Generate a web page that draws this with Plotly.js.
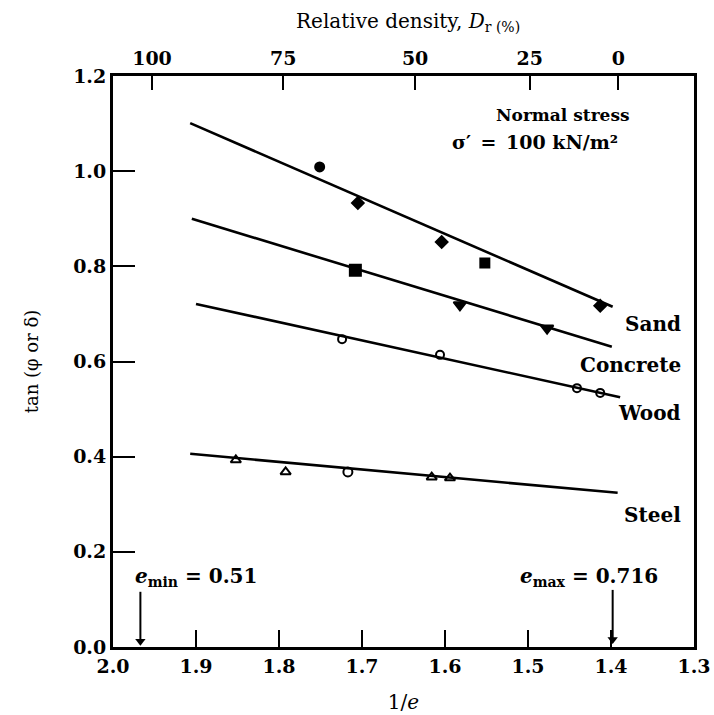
<!DOCTYPE html>
<html>
<head>
<meta charset="utf-8">
<script src="https://cdn.plot.ly/plotly-3.0.1.min.js"></script>
<style>html,body{margin:0;padding:0;background:#fff;}#chart{width:714px;height:715px;}</style>
</head>
<body>
<div id="chart"></div>
<script>
// ---- data ----
const sandX = [1.751, 1.705, 1.604, 1.552, 1.413];
const sandY = [1.009, 0.933, 0.851, 0.807, 0.717];
const sandSym = ['circle', 'diamond', 'diamond', 'square', 'diamond'];
const sandLineX = [1.907, 1.398];
const sandLineY = [1.101, 0.715];

const concreteX = [1.708, 1.582, 1.477];
const concreteY = [0.792, 0.719, 0.670];
const concreteSym = ['square', 'triangle-down', 'triangle-down'];
const concreteLineX = [1.905, 1.399];
const concreteLineY = [0.900, 0.631];

const woodX = [1.724, 1.606, 1.441, 1.413];
const woodY = [0.647, 0.614, 0.544, 0.534];
const woodSym = ['circle-open', 'circle-open', 'circle-open', 'circle-open'];
const woodLineX = [1.900, 1.389];
const woodLineY = [0.721, 0.525];

const steelX = [1.852, 1.792, 1.717, 1.616, 1.594];
const steelY = [0.393, 0.368, 0.368, 0.357, 0.355];
const steelSym = ['triangle-up-open', 'triangle-up-open', 'circle-open', 'triangle-up-open', 'triangle-up-open'];
const steelLineX = [1.907, 1.392];
const steelLineY = [0.406, 0.324];

const topTickPos = [1.953, 1.795, 1.636, 1.498, 1.391];
const topTickText = ['100', '75', '50', '25', '0'];

const eMinArrowX = [1.967, 1.967];
const eMinArrowY = [0.116, 0.012];
const eMaxArrowX = [1.398, 1.398];
const eMaxArrowY = [0.120, 0.016];

const FONT = 'DejaVu Serif, serif';
const lineStyle = {color: '#000', width: 2.6};

function lineTrace(x, y, w) {
  return {x: x, y: y, mode: 'lines', line: {color: '#000', width: w || 2.6}, hoverinfo: 'skip', showlegend: false};
}
function markTrace(x, y, sym, size) {
  return {x: x, y: y, mode: 'markers', showlegend: false,
    marker: {symbol: sym, size: size, color: '#000', line: {color: '#000', width: 2}}};
}
function headTrace(x, y) {
  return {x: [x[1]], y: [y[1]], mode: 'markers', showlegend: false,
    marker: {symbol: 'triangle-down', size: 9, color: '#000'}};
}

const traces = [
  lineTrace(sandLineX, sandLineY), markTrace(sandX, sandY, sandSym, 9),
  lineTrace(concreteLineX, concreteLineY), markTrace(concreteX, concreteY, concreteSym, 11),
  lineTrace(woodLineX, woodLineY), markTrace(woodX, woodY, woodSym, 8),
  lineTrace(steelLineX, steelLineY), markTrace(steelX, steelY, steelSym, 9),
  lineTrace(eMinArrowX, eMinArrowY, 2), headTrace(eMinArrowX, eMinArrowY),
  lineTrace(eMaxArrowX, eMaxArrowY, 2), headTrace(eMaxArrowX, eMaxArrowY),
  {x: topTickPos, y: topTickPos.map(() => null), xaxis: 'x2', mode: 'markers', showlegend: false, hoverinfo: 'skip'}
];

const tickFont = {family: FONT, size: 19, color: '#000', weight: 'bold'};
const labFont = {family: FONT, size: 20, color: '#000', weight: 'bold'};

const layout = {
  width: 714, height: 715,
  margin: {l: 113, r: 20, t: 76, b: 68},
  paper_bgcolor: '#fff', plot_bgcolor: '#fff',
  showlegend: false,
  xaxis: {
    range: [2.0, 1.3], autorange: false, dtick: 0.1, tick0: 1.3, tickformat: '.1f',
    showgrid: false, zeroline: false, showline: true, linecolor: '#000', linewidth: 3,
    ticks: 'inside', ticklen: 17, tickwidth: 2, tickcolor: '#000',
    tickfont: tickFont,
    title: {text: '1/<i>e</i>', font: {family: FONT, size: 20, color: '#000'}, standoff: 20}
  },
  xaxis2: {
    overlaying: 'x', side: 'top', range: [2.0, 1.3], autorange: false,
    tickmode: 'array', tickvals: topTickPos, ticktext: topTickText,
    showgrid: false, zeroline: false, showline: true, linecolor: '#000', linewidth: 3,
    ticks: 'inside', ticklen: 14, tickwidth: 2, tickcolor: '#000',
    tickfont: tickFont
  },
  yaxis: {
    range: [0, 1.2], autorange: false, dtick: 0.2, tickformat: '.1f',
    showgrid: false, zeroline: false, showline: true, mirror: true, linecolor: '#000', linewidth: 3,
    ticks: 'inside', ticklen: 22, tickwidth: 2, tickcolor: '#000',
    tickfont: tickFont, ticklabelstandoff: 0,
    title: {text: 'tan (φ or δ)', font: {family: FONT, size: 18, color: '#000'}, standoff: 30}
  },
  annotations: [
    {xref: 'paper', yref: 'paper', x: 0.507, y: 1.0, yshift: 54, xanchor: 'center', yanchor: 'middle',
     text: 'Relative density, <i>D</i><sub>r (%)</sub>', showarrow: false,
     font: {family: FONT, size: 20, color: '#000'}},
    {x: 1.458, y: 1.118, text: 'Normal stress', showarrow: false, xanchor: 'center', yanchor: 'middle',
     font: {family: FONT, size: 17, color: '#000', weight: 'bold'}},
    {x: 1.492, y: 1.061, text: 'σ′\u2002=\u2002100 kN/m²', showarrow: false, xanchor: 'center', yanchor: 'middle',
     font: {family: FONT, size: 19, color: '#000', weight: 'bold'}},
    {x: 1.313, y: 0.679, text: 'Sand', showarrow: false, xanchor: 'right', yanchor: 'middle', font: labFont},
    {x: 1.313, y: 0.593, text: 'Concrete', showarrow: false, xanchor: 'right', yanchor: 'middle', font: labFont},
    {x: 1.313, y: 0.492, text: 'Wood', showarrow: false, xanchor: 'right', yanchor: 'middle', font: labFont},
    {x: 1.313, y: 0.277, text: 'Steel', showarrow: false, xanchor: 'right', yanchor: 'middle', font: labFont},
    {x: 1.976, y: 0.147, text: '<i>e</i><sub>min</sub> = 0.51', showarrow: false, xanchor: 'left', yanchor: 'middle', font: labFont},
    {x: 1.512, y: 0.147, text: '<i>e</i><sub>max</sub> = 0.716', showarrow: false, xanchor: 'left', yanchor: 'middle', font: labFont}
  ]
};

Plotly.newPlot('chart', traces, layout, {displayModeBar: false, staticPlot: true});
</script>
</body>
</html>
